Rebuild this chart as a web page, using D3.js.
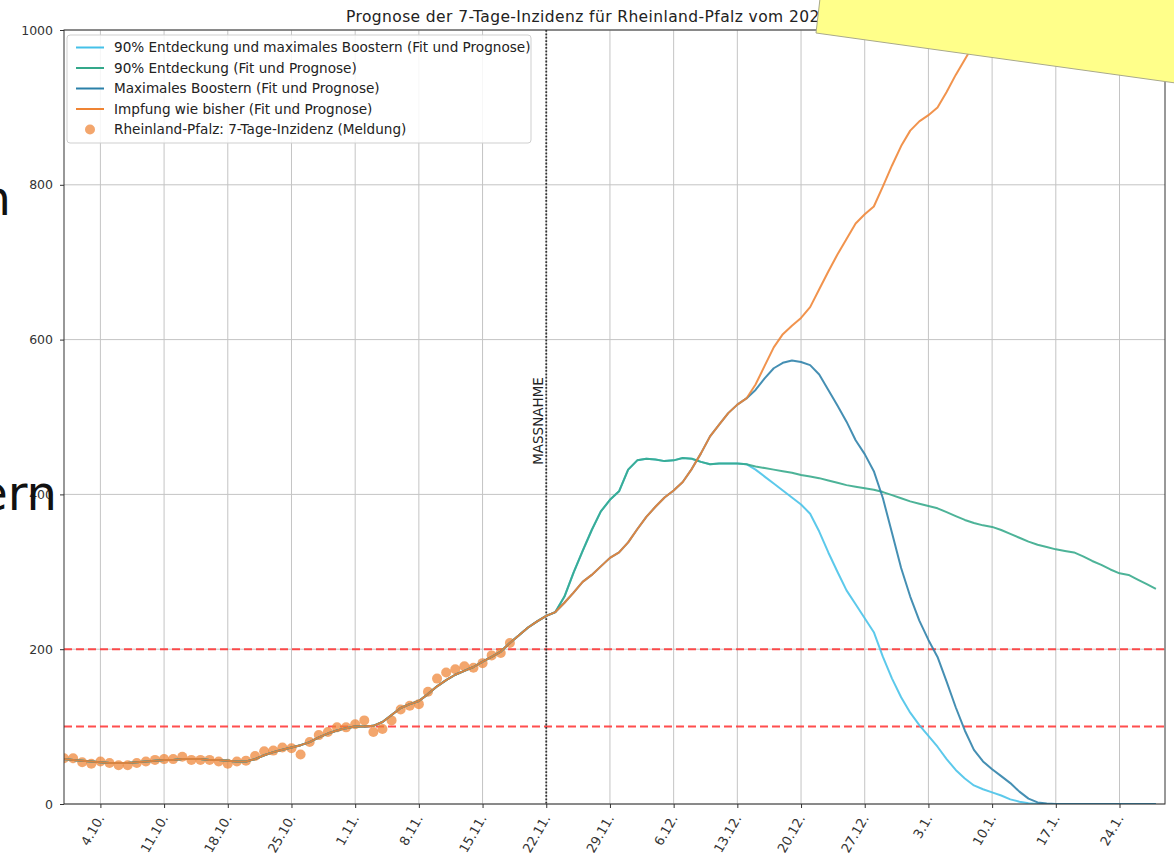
<!DOCTYPE html>
<html>
<head>
<meta charset="utf-8">
<script src="https://cdn.jsdelivr.net/npm/d3@7"></script>
<style>
  html, body { margin: 0; padding: 0; background: #ffffff; }
  svg { display: block; }
  text { font-family: "DejaVu Sans", sans-serif; }
</style>
</head>
<body>
<svg id="chart" width="1174" height="859"></svg>
<script>
// ---- data -----------------------------------------------------------------
const firstDay = "2021-09-30";          // day index 0
const lastDay = "2022-01-29";           // right edge of the axis
const measureDay = "2021-11-22";        // MASSNAHME

// reported 7-day incidence, one value per day from firstDay
const reported = [59, 59, 54, 52, 55, 53, 50, 50, 53, 55, 57, 58, 58, 61, 57, 57, 57, 55, 52, 55,
  56, 62, 68, 69, 73, 72, 64, 80, 89, 93, 99, 99, 103, 108, 93, 97, 108, 122, 127, 129,
  145, 162, 170, 174, 178, 176, 182, 192, 195, 208];

// fitted curve shared by all scenarios (day 0 .. 54)
const fitCommon = [58, 57, 56, 55, 54, 53, 53, 53, 54, 55, 56, 57, 57, 58, 58, 58, 57, 57, 56, 55,
  55, 58, 63, 67, 70, 73, 76, 80, 86, 91, 95, 98, 100, 100, 101, 106, 115, 124, 129, 133,
  142, 152, 160, 167, 172, 177, 184, 190, 197, 208, 218, 228, 236, 243, 248];

// "Impfung wie bisher" from day 55
const tailImpfung = [260, 273, 287, 296, 307, 318, 325, 338, 355, 371, 384, 396, 405, 416, 433, 453,
  475, 490, 505, 516, 524, 542, 566, 590, 607, 618, 628, 642, 665, 688, 710, 730, 750, 762, 772,
  798, 825, 850, 870, 882, 890, 900, 920, 942, 962, 982, 1002, 1020];

// "90% Entdeckung" from day 55
const tailEntdeckung = [268, 299, 327, 354, 378, 393, 404, 432, 444, 446, 445, 443, 444, 447, 446,
  442, 439, 440, 440, 440, 439, 436, 434, 432, 430, 428, 425, 423, 421, 418, 415, 412, 410, 408,
  406, 403, 399, 395, 391, 388, 385, 382, 377, 372, 367, 363, 360, 358, 354, 349, 344, 339, 335,
  332, 329, 327, 325, 320, 314, 309, 303, 298, 296, 290, 284, 278];

// "Maximales Boostern" from day 76 (follows "Impfung wie bisher" until then)
const tailBoostern = [535, 550, 563, 570, 573, 571, 567, 555, 535, 515, 494, 470, 452, 430, 395,
  350, 305, 268, 237, 212, 190, 158, 125, 95, 70, 55, 45, 36, 27, 16, 7, 2, 0.5,
  0, 0, 0, 0, 0, 0, 0, 0, 0, 0, 0, 0];

// "90% Entdeckung und maximales Boostern" from day 76 (follows "90% Entdeckung" until then)
const tailEntdeckungBoostern = [432, 423, 414, 405, 396, 387, 375, 352, 325, 300, 276, 258, 240,
  222, 190, 162, 138, 118, 102, 88, 74, 58, 44, 33, 24, 19, 15, 11, 6, 3, 1,
  0, 0, 0, 0, 0, 0, 0, 0, 0, 0, 0, 0, 0, 0];

const tickDays = ["2021-10-04", "2021-10-11", "2021-10-18", "2021-10-25", "2021-11-01",
  "2021-11-08", "2021-11-15", "2021-11-22", "2021-11-29", "2021-12-06", "2021-12-13",
  "2021-12-20", "2021-12-27", "2022-01-03", "2022-01-10", "2022-01-17", "2022-01-24"];
const yTicks = [0, 200, 400, 600, 800, 1000];
const thresholds = [100, 200];

const seriesNames = [
  "90% Entdeckung und maximales Boostern (Fit und Prognose)",
  "90% Entdeckung (Fit und Prognose)",
  "Maximales Boostern (Fit und Prognose)",
  "Impfung wie bisher (Fit und Prognose)"
];
const seriesColors = ["#45c1e8", "#34a88a", "#2b80a8", "#ef8434"];
const dotLabel = "Rheinland-Pfalz: 7-Tage-Inzidenz (Meldung)";
const dotColor = "#ef8434";
const titleText = "Prognose der 7-Tage-Inzidenz für Rheinland-Pfalz vom 2021-11-22";

// ---- assemble series ------------------------------------------------------
const split = 21; // days 55..75 shared with the parent scenario
const seriesValues = [
  fitCommon.concat(tailEntdeckung.slice(0, split), tailEntdeckungBoostern),
  fitCommon.concat(tailEntdeckung),
  fitCommon.concat(tailImpfung.slice(0, split), tailBoostern),
  fitCommon.concat(tailImpfung)
];

const parseDay = d3.utcParse("%Y-%m-%d");
const day0 = parseDay(firstDay);
const dayAt = i => d3.utcDay.offset(day0, i);

// ---- layout ---------------------------------------------------------------
const W = 1174, H = 859;
const plotL = 64, plotR = 1165, plotT = 30, plotB = 804;

const svg = d3.select("#chart");
svg.append("rect").attr("width", W).attr("height", H).attr("fill", "#ffffff");

const x = d3.scaleUtc().domain([day0, parseDay(lastDay)]).range([plotL, plotR]);
const y = d3.scaleLinear().domain([0, 1000]).range([plotB, plotT]);

svg.append("defs").append("clipPath").attr("id", "plotClip")
  .append("rect").attr("x", plotL).attr("y", plotT)
  .attr("width", plotR - plotL).attr("height", plotB - plotT);

// title
svg.append("text")
  .attr("x", 346).attr("y", 22)
  .attr("font-size", 15.5).attr("letter-spacing", 0.4).attr("fill", "#222")
  .text(titleText);

// grid
const grid = svg.append("g");
grid.selectAll("line.vx").data(tickDays.map(parseDay)).join("line")
  .attr("x1", d => x(d)).attr("x2", d => x(d))
  .attr("y1", plotT).attr("y2", plotB)
  .attr("stroke", "#c4c4c4").attr("stroke-width", 1);
grid.selectAll("line.hy").data(yTicks).join("line")
  .attr("x1", plotL).attr("x2", plotR)
  .attr("y1", d => y(d)).attr("y2", d => y(d))
  .attr("stroke", "#c4c4c4").attr("stroke-width", 1);

// threshold lines
svg.append("g").selectAll("line").data(thresholds).join("line")
  .attr("x1", plotL).attr("x2", plotR)
  .attr("y1", d => y(d)).attr("y2", d => y(d))
  .attr("stroke", "#ff3b3b").attr("stroke-width", 2)
  .attr("stroke-dasharray", "8,4").attr("opacity", 0.9);

// measure line
const mx = x(parseDay(measureDay));
svg.append("line")
  .attr("x1", mx).attr("x2", mx).attr("y1", plotT).attr("y2", plotB)
  .attr("stroke", "#333").attr("stroke-width", 1.8)
  .attr("stroke-dasharray", "1.8,1.6");
svg.append("text")
  .attr("transform", `translate(${mx - 3},421) rotate(-90)`)
  .attr("text-anchor", "middle")
  .attr("font-size", 13.5).attr("fill", "#222")
  .text("MASSNAHME");

// plotted data
const plot = svg.append("g").attr("clip-path", "url(#plotClip)");

plot.append("g").selectAll("circle").data(reported).join("circle")
  .attr("cx", (d, i) => x(dayAt(i)))
  .attr("cy", d => y(d))
  .attr("r", 5)
  .attr("fill", dotColor).attr("fill-opacity", 0.72);

const line = d3.line()
  .x((d, i) => x(dayAt(i)))
  .y(d => y(d));

plot.append("g").selectAll("path").data(seriesValues).join("path")
  .attr("d", d => line(d))
  .attr("fill", "none")
  .attr("stroke", (d, i) => seriesColors[i])
  .attr("stroke-width", 2)
  .attr("stroke-opacity", 0.88)
  .attr("stroke-linejoin", "round");

// frame
svg.append("rect")
  .attr("x", plotL).attr("y", plotT)
  .attr("width", plotR - plotL).attr("height", plotB - plotT)
  .attr("fill", "none").attr("stroke", "#333").attr("stroke-width", 1);

// axes
const fmt = d3.utcFormat("%-d.%-m.");
const xAxis = svg.append("g")
  .attr("transform", `translate(0,${plotB})`)
  .call(d3.axisBottom(x).tickValues(tickDays.map(parseDay)).tickFormat(fmt)
    .tickSize(4).tickPadding(0));
xAxis.select(".domain").remove();
xAxis.selectAll(".tick line").attr("stroke", "#333");
xAxis.selectAll(".tick text")
  .attr("font-family", "DejaVu Sans, sans-serif")
  .attr("font-size", 13).attr("fill", "#333")
  .attr("text-anchor", "end")
  .attr("dy", null)
  .attr("y", null)
  .attr("transform", "translate(4,14) rotate(-60)");

const yAxis = svg.append("g")
  .attr("transform", `translate(${plotL},0)`)
  .call(d3.axisLeft(y).tickValues(yTicks).tickFormat(d3.format("d"))
    .tickSize(4).tickPadding(7));
yAxis.select(".domain").remove();
yAxis.selectAll(".tick line").attr("stroke", "#333");
yAxis.selectAll(".tick text")
  .attr("font-family", "DejaVu Sans, sans-serif")
  .attr("font-size", 12.5).attr("fill", "#333");

// legend
const lg = svg.append("g").attr("transform", "translate(67,35)");
lg.append("rect")
  .attr("width", 464).attr("height", 108).attr("rx", 3)
  .attr("fill", "#ffffff").attr("fill-opacity", 0.85)
  .attr("stroke", "#cfcfcf").attr("stroke-width", 1);
const rowY = i => 12.5 + i * 20.5;
const entries = lg.selectAll("g.entry")
  .data(seriesNames.concat([dotLabel])).join("g")
  .attr("transform", (d, i) => `translate(0,${rowY(i)})`);
entries.each(function (d, i) {
  const g = d3.select(this);
  if (i < seriesNames.length) {
    g.append("line").attr("x1", 9).attr("x2", 37).attr("y1", 0).attr("y2", 0)
      .attr("stroke", seriesColors[i]).attr("stroke-width", 2);
  } else {
    g.append("circle").attr("cx", 23).attr("cy", 0).attr("r", 5)
      .attr("fill", dotColor).attr("fill-opacity", 0.72);
  }
  g.append("text").attr("x", 47).attr("y", 4.8)
    .attr("font-size", 13.6).attr("fill", "#222").text(d);
});

// overlapping slide elements
svg.append("polygon")
  .attr("points", "821,-10 816,33 1190,85 1190,-10")
  .attr("fill", "#ffff8a").attr("stroke", "#a9a98a").attr("stroke-width", 1);

svg.append("text")
  .attr("x", 57).attr("y", 510).attr("text-anchor", "end")
  .attr("font-family", "Liberation Sans, sans-serif")
  .attr("font-size", 48).attr("fill", "#111")
  .text("ern");
svg.append("text")
  .attr("x", 11).attr("y", 215).attr("text-anchor", "end")
  .attr("font-family", "Liberation Sans, sans-serif")
  .attr("font-size", 48).attr("fill", "#111")
  .text("n");
</script>
</body>
</html>
